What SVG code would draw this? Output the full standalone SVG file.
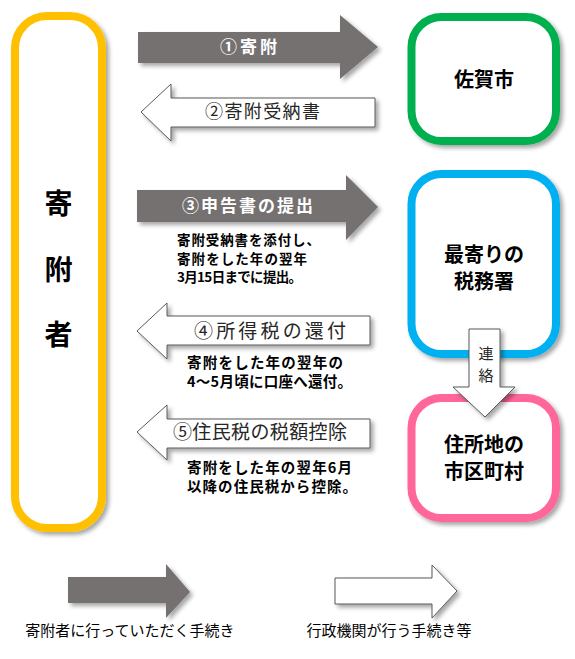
<svg xmlns="http://www.w3.org/2000/svg" width="575" height="659" viewBox="0 0 575 659">
<defs>
<filter id="sh" x="-20%" y="-20%" width="140%" height="140%">
<feDropShadow dx="3" dy="3" stdDeviation="2" flood-color="#000" flood-opacity="0.35"/>
</filter>
<style>
text{font-family:"Noto Sans CJK JP","Noto Sans",sans-serif;}
.box{fill:#fff;stroke-width:8;filter:url(#sh);}
.dark{fill:#767171;filter:url(#sh);}
.light{fill:#fff;stroke:#595959;stroke-width:1;filter:url(#sh);}
.nl{font-size:20px;font-weight:bold;fill:#000;text-anchor:middle;}
.big{font-size:28px;font-weight:bold;fill:#000;text-anchor:middle;}
.wl{font-size:17px;font-weight:bold;fill:#fff;}
.gl{font-size:18px;fill:#262626;}
.gl2{font-size:19px;fill:#262626;}
.vl{font-size:15px;fill:#262626;text-anchor:middle;}
.sub{font-size:13.5px;font-weight:bold;fill:#000;}
.sub2{font-size:14.5px;font-weight:bold;fill:#000;}
.leg{font-size:15px;fill:#000;text-anchor:middle;}
</style>
</defs>
<rect width="575" height="659" fill="#fff"/>

<g id="kifusha">
<rect class="box" x="15" y="16" width="87" height="512" rx="32" stroke="#FFC000"/>
<text class="big" x="58.5" y="214">寄</text>
<text class="big" x="58.5" y="280">附</text>
<text class="big" x="58.5" y="345">者</text>
</g>

<g id="saga">
<rect class="box" x="411.5" y="17" width="144.5" height="124" rx="30" stroke="#00B050"/>
<text class="nl" x="484" y="87">佐賀市</text>
</g>

<g id="zeimusho">
<rect class="box" x="411.5" y="174" width="144.5" height="180" rx="30" stroke="#00B0F0"/>
<text class="nl" x="484" y="262">最寄りの</text>
<text class="nl" x="484" y="289">税務署</text>
</g>

<g id="shikuchoson">
<rect class="box" x="411.5" y="398" width="144.5" height="120" rx="30" stroke="#FF6699"/>
<text class="nl" x="484" y="452">住所地の</text>
<text class="nl" x="484" y="479">市区町村</text>
</g>

<g id="connectors">
<polygon class="dark" points="138,32 340,32 340,15 378,47 340,79 340,63 138,63"/>
<text class="wl" x="220" y="53" textLength="57" lengthAdjust="spacing">①寄附</text>

<polygon class="light" points="375,98 171,98 171,84 141,112 171,141 171,127 375,127"/>
<text class="gl" x="205" y="118" textLength="115" lengthAdjust="spacing">②寄附受納書</text>

<polygon class="dark" points="137,190 346,190 346,175 378,207 346,240 346,222 137,222"/>
<text class="wl" x="182" y="212" textLength="131" lengthAdjust="spacing">③申告書の提出</text>
<text class="sub" x="177" y="245" textLength="143" lengthAdjust="spacing">寄附受納書を添付し、</text>
<text class="sub" x="177" y="263.5" textLength="130" lengthAdjust="spacing">寄附をした年の翌年</text>
<text class="sub" x="177" y="282" textLength="125" lengthAdjust="spacing">3月15日までに提出。</text>

<polygon class="light" points="370,316 167,316 167,303 137,331 167,359 167,345 370,345"/>
<text class="gl2" x="194" y="338" textLength="152" lengthAdjust="spacing">④所得税の還付</text>
<text class="sub2" x="187" y="368" textLength="156" lengthAdjust="spacing">寄附をした年の翌年の</text>
<text class="sub2" x="187" y="387" textLength="165" lengthAdjust="spacing">4〜5月頃に口座へ還付。</text>

<polygon class="light" points="370,419 167,419 167,405 137,432 167,460 167,448 370,448"/>
<text class="gl2" x="173" y="439" textLength="174" lengthAdjust="spacing">⑤住民税の税額控除</text>
<text class="sub2" x="187" y="473" textLength="165" lengthAdjust="spacing">寄附をした年の翌年6月</text>
<text class="sub2" x="187" y="492" textLength="170" lengthAdjust="spacing">以降の住民税から控除。</text>

<polygon class="light" points="469,329 500,329 500,387 515,387 485,417 453,387 469,387"/>
<text class="vl"><tspan x="486" y="359">連</tspan><tspan x="486" y="381">絡</tspan></text>
</g>

<g id="legend">
<polygon class="dark" points="68,577 166,577 166,564 190,592 166,618 166,603 68,603"/>
<text class="leg" x="130" y="636">寄附者に行っていただく手続き</text>
<polygon class="light" points="335,578 432,578 432,565 457,591 432,618 432,604 335,604"/>
<text class="leg" x="389" y="636">行政機関が行う手続き等</text>
</g>
</svg>
